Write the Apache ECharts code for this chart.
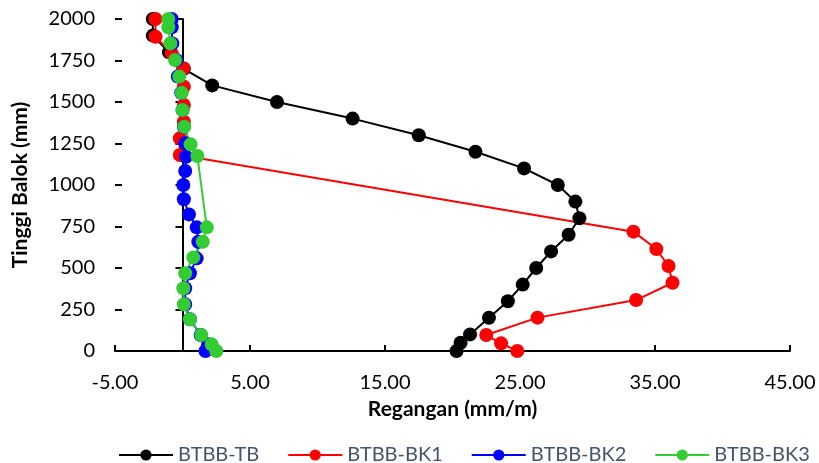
<!DOCTYPE html>
<html>
<head>
<meta charset="utf-8">
<script src="https://cdn.jsdelivr.net/npm/echarts@6/dist/echarts.min.js"></script>
<style>
  html, body { margin: 0; padding: 0; background: #fff; }
  #main { width: 819px; height: 463px; }
</style>
</head>
<body>
<div id="main"></div>
<script>
// data: height (mm) and strain (mm/m) per series
var seriesNames = ['BTBB-TB', 'BTBB-BK1', 'BTBB-BK2', 'BTBB-BK3'];

var hTB = [0, 50, 100, 200, 300, 400, 500, 600, 700, 800, 900, 1000, 1100, 1200, 1300, 1400, 1500, 1600, 1700, 1800, 1900, 2000];
var xTB = [20.3, 20.6, 21.3, 22.7, 24.1, 25.2, 26.2, 27.3, 28.6, 29.4, 29.1, 27.8, 25.3, 21.7, 17.5, 12.6, 7.0, 2.2, 0.1, -1.0, -2.2, -2.2];

var hBK1 = [0, 46, 96, 201, 307, 411, 512, 614, 719, 1181, 1281, 1381, 1482, 1592, 1703, 1793, 1893, 2000];
var xBK1 = [24.8, 23.6, 22.5, 26.3, 33.6, 36.3, 36.0, 35.1, 33.4, -0.2, -0.2, 0.1, 0.1, 0.1, 0.06, -0.8, -2.0, -2.0];

var hBK2 = [0, 40, 96, 191, 281, 378, 468, 558, 658, 745, 823, 914, 1000, 1084, 1170, 1251, 1351, 1452, 1555, 1653, 1753, 1853, 1950, 2000];
var xBK2 = [1.7, 1.9, 1.35, 0.55, 0.2, 0.2, 0.55, 1.05, 1.17, 1.05, 0.48, 0.1, 0.06, 0.2, 0.26, 0.2, 0.1, 0.0, -0.1, -0.35, -0.45, -0.75, -0.8, -0.8];

var hBK3 = [0, 40, 96, 191, 281, 378, 468, 564, 658, 745, 1175, 1245, 1351, 1452, 1555, 1653, 1753, 1853, 1950, 2000];
var xBK3 = [2.5, 2.16, 1.4, 0.55, 0.1, 0.06, 0.2, 0.8, 1.5, 1.8, 1.1, 0.6, 0.13, 0.0, -0.06, -0.24, -0.55, -0.9, -1.05, -1.05];

var colors = ['#000000', '#ff0000', '#0000ff', '#33cc33'];
var fontFam = 'Lato, "Liberation Sans", sans-serif';

function pairs(xs, hs) {
    var out = [];
    for (var i = 0; i < xs.length; i++) out.push([xs[i], hs[i]]);
    return out;
}

var allData = [pairs(xTB, hTB), pairs(xBK1, hBK1), pairs(xBK2, hBK2), pairs(xBK3, hBK3)];

var myChart = echarts.init(document.getElementById('main'));

var option = {
    animation: false,
    color: colors,
    grid: {
        left: 115,
        right: 29,
        top: 19,
        bottom: 112
    },
    legend: {
        left: 113,
        right: 0,
        top: 440,
        itemWidth: 54,
        itemHeight: 14,
        itemGap: 28,
        textStyle: { color: '#44546a', fontSize: 20, fontFamily: fontFam },
        data: seriesNames
    },
    xAxis: {
        type: 'value',
        min: -5,
        max: 45,
        interval: 10,
        name: 'Regangan (mm/m)',
        nameLocation: 'middle',
        nameGap: 48,
        nameTextStyle: { color: '#000', fontSize: 21, fontWeight: 'bold', fontFamily: fontFam },
        axisLine: { onZero: false, lineStyle: { color: '#000', width: 2 } },
        axisTick: { show: true, inside: true, length: 6, lineStyle: { color: '#000', width: 2 } },
        axisLabel: {
            color: '#000', fontSize: 20, fontFamily: fontFam, margin: 22,
            formatter: function (v) { return v.toFixed(2); }
        },
        splitLine: { show: false }
    },
    yAxis: [
        {
            // labels + title at the left edge
            type: 'value',
            min: 0,
            max: 2000,
            interval: 250,
            position: 'left',
            name: 'Tinggi Balok (mm)',
            nameLocation: 'middle',
            nameGap: 84,
            nameTextStyle: { color: '#000', fontSize: 21, fontWeight: 'bold', fontFamily: fontFam },
            axisLine: { show: false, onZero: false },
            axisTick: { show: false },
            axisLabel: {
                color: '#000', fontSize: 20, fontFamily: fontFam, margin: 20,
                formatter: function (v) { return String(v); }
            },
            splitLine: { show: false }
        },
        {
            // axis line crossing at x = 0, ticks on the outside
            type: 'value',
            min: 0,
            max: 2000,
            interval: 250,
            position: 'left',
            axisLine: { show: true, onZero: true, lineStyle: { color: '#000', width: 2 } },
            axisTick: { show: true, length: 7, lineStyle: { color: '#000', width: 2 } },
            axisLabel: { show: false },
            splitLine: { show: false }
        },
        {
            // inside half of the cross ticks
            type: 'value',
            min: 0,
            max: 2000,
            interval: 250,
            position: 'left',
            axisLine: { show: false, onZero: true },
            axisTick: { show: true, inside: true, length: 7, lineStyle: { color: '#000', width: 2 } },
            axisLabel: { show: false },
            splitLine: { show: false }
        }
    ],
    series: seriesNames.map(function (name, i) {
        return {
            name: name,
            type: 'line',
            yAxisIndex: 0,
            data: allData[i],
            symbol: 'circle',
            symbolSize: 14,
            lineStyle: { width: 2, color: colors[i] },
            itemStyle: { color: colors[i] }
        };
    })
};

myChart.setOption(option);
</script>
</body>
</html>
